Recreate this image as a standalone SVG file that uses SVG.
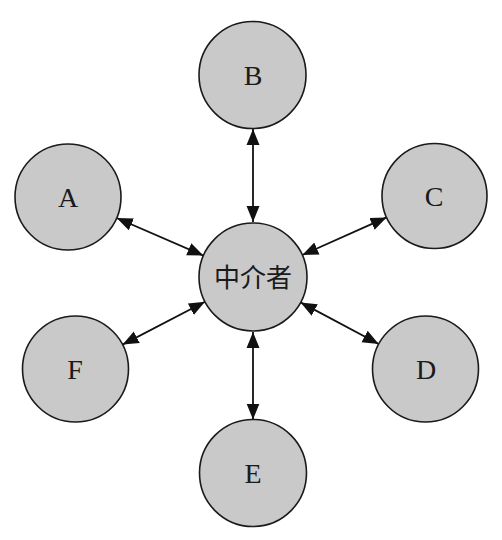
<svg xmlns="http://www.w3.org/2000/svg" width="502" height="540" viewBox="0 0 502 540">
<style>
.n{fill:#c9c9c9;stroke:#1a1a1a;stroke-width:1.6}
.t{font-family:"Liberation Serif","Times New Roman",serif;font-size:28px;fill:#1a1a1a;text-anchor:middle}
.c{font-family:"Noto Sans CJK SC","Noto Sans",sans-serif;font-size:26px;fill:#1a1a1a;text-anchor:middle}
.e{stroke:#111;stroke-width:1.8;fill:none;marker-start:url(#ah);marker-end:url(#ah)}
</style>
<defs>
<marker id="ah" markerUnits="userSpaceOnUse" markerWidth="17" markerHeight="14" refX="16" refY="7" orient="auto-start-reverse" viewBox="0 0 17 14">
<path d="M0,0.5 L16,7 L0,13.5 z" fill="#111"/>
</marker>
</defs>
<rect width="502" height="540" fill="#fff"/>
<g id="connectors">
<line class="e" x1="253" y1="129" x2="253" y2="222"/>
<line class="e" x1="203.4" y1="255.6" x2="116.7" y2="218"/>
<line class="e" x1="302.3" y1="255" x2="386.6" y2="217.4"/>
<line class="e" x1="300.6" y1="302.4" x2="378.7" y2="344"/>
<line class="e" x1="205" y1="301.8" x2="122.6" y2="344.6"/>
<line class="e" x1="253" y1="332" x2="253" y2="419.5"/>
</g>
<g id="mediator"><circle class="n" cx="253" cy="277" r="54"/><text class="c" x="253" y="287">中介者</text></g>
<g id="B"><circle class="n" cx="252.5" cy="75" r="53.5"/><text class="t" x="253" y="85">B</text></g>
<g id="A"><circle class="n" cx="68" cy="197" r="53"/><text class="t" x="68" y="207">A</text></g>
<g id="C"><circle class="n" cx="434.5" cy="196" r="52.5"/><text class="t" x="434" y="206">C</text></g>
<g id="D"><circle class="n" cx="425.5" cy="369" r="53"/><text class="t" x="426" y="379">D</text></g>
<g id="F"><circle class="n" cx="75.5" cy="369" r="53"/><text class="t" x="75" y="379">F</text></g>
<g id="E"><circle class="n" cx="253" cy="473" r="53.5"/><text class="t" x="253" y="483">E</text></g>
</svg>
